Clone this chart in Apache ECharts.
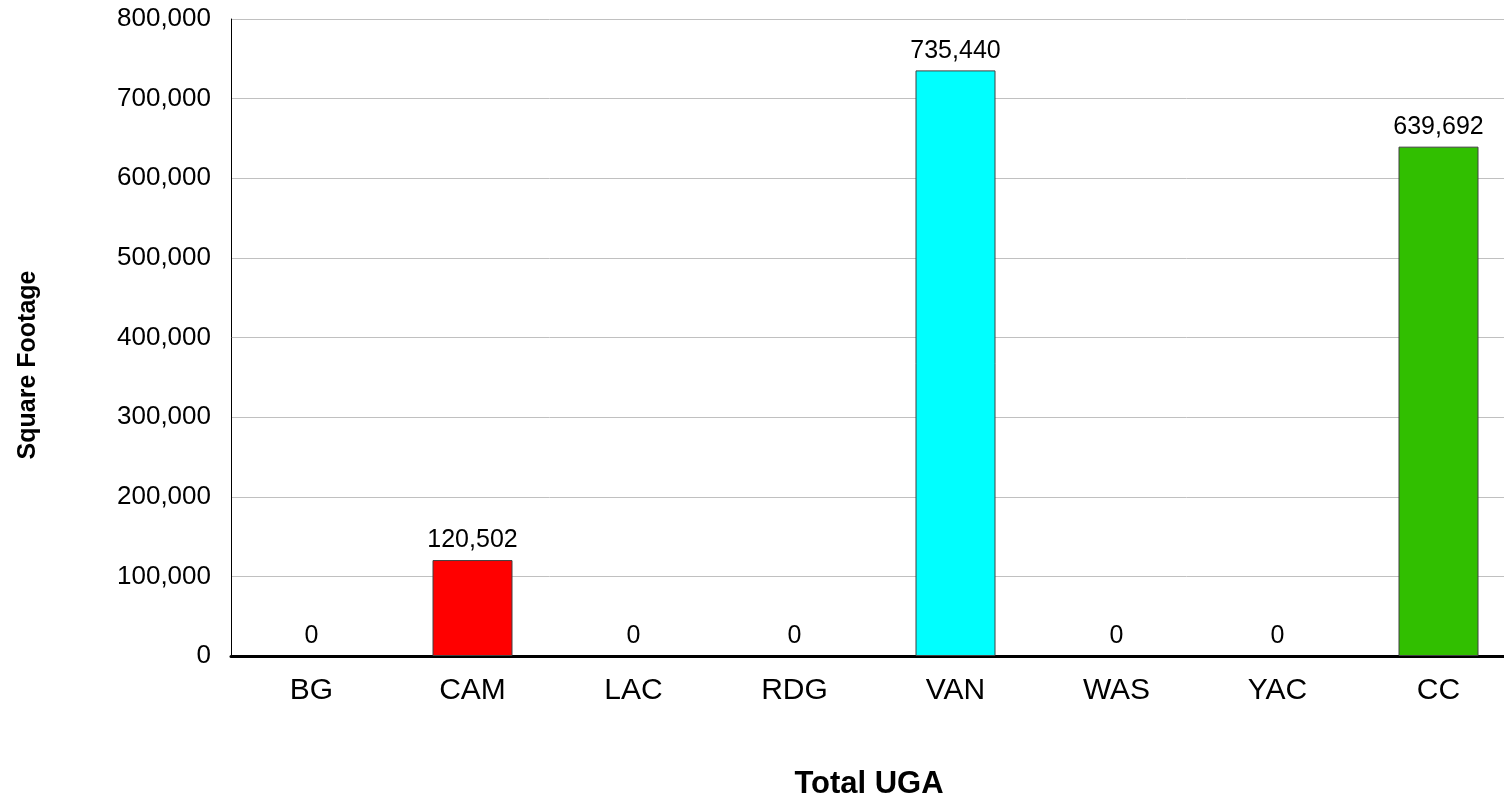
<!DOCTYPE html>
<html>
<head>
<meta charset="utf-8">
<script src="https://cdn.jsdelivr.net/npm/echarts@6/dist/echarts.min.js"></script>
<style>html,body{margin:0;padding:0;background:#fff}#c{width:1504px;height:801px}</style>
</head>
<body>
<div id="c"></div>
<script>
const categories = ['BG', 'CAM', 'LAC', 'RDG', 'VAN', 'WAS', 'YAC', 'CC'];
const values = [0, 120502, 0, 0, 735440, 0, 0, 639692];
const colors = ['#ff0000', '#ff0000', '#ff0000', '#ff0000', '#00ffff', '#00ffff', '#00ffff', '#31bf00'];
const yTicks = [0, 100000, 200000, 300000, 400000, 500000, 600000, 700000, 800000];
const yTitle = 'Square Footage';
const xTitle = 'Total UGA';

const FONT = 'Liberation Sans, Arial, sans-serif';
const fmt = v => Number(v).toLocaleString('en-US');
const chart = echarts.init(document.getElementById('c'), null, {renderer: 'canvas'});
chart.setOption({
  animation: false,
  backgroundColor: '#ffffff',
  textStyle: {fontFamily: FONT},
  grid: {left: 231, top: 19, right: -15, height: 637, containLabel: false, outerBoundsMode: 'none'},
  xAxis: {
    type: 'category',
    data: categories,
    axisLine: {show: true, lineStyle: {color: '#000', width: 3}},
    axisTick: {show: false},
    axisLabel: {color: '#000', fontSize: 30, margin: 20, fontFamily: FONT},
    splitLine: {show: false}
  },
  yAxis: {
    type: 'value',
    min: yTicks[0],
    max: yTicks[yTicks.length - 1],
    interval: yTicks[1] - yTicks[0],
    axisLine: {show: true, lineStyle: {color: '#000', width: 1}},
    axisTick: {show: false},
    axisLabel: {color: '#000', fontSize: 26, margin: 20, formatter: v => fmt(v), fontFamily: FONT},
    splitLine: {show: true, lineStyle: {color: '#c0c0c0', width: 1}}
  },
  series: [{
    type: 'bar',
    data: values.map((v, i) => ({value: v, itemStyle: {color: colors[i], borderWidth: v === 0 ? 0 : 1}})),
    barWidth: 80,
    itemStyle: {borderColor: '#404040', borderWidth: 1},
    label: {
      show: true,
      position: 'top',
      distance: 7,
      color: '#000',
      fontSize: 25,
      fontFamily: FONT,
      formatter: p => fmt(p.value)
    }
  }],
  graphic: [
    {type: 'text', x: 28, y: 365, rotation: Math.PI / 2,
     style: {text: yTitle, fill: '#000', font: 'bold 25px ' + FONT, textAlign: 'center', textVerticalAlign: 'middle'}},
    {type: 'text', x: 869, y: 784,
     style: {text: xTitle, fill: '#000', font: 'bold 31px ' + FONT, textAlign: 'center', textVerticalAlign: 'middle'}}
  ]
});
</script>
</body>
</html>
